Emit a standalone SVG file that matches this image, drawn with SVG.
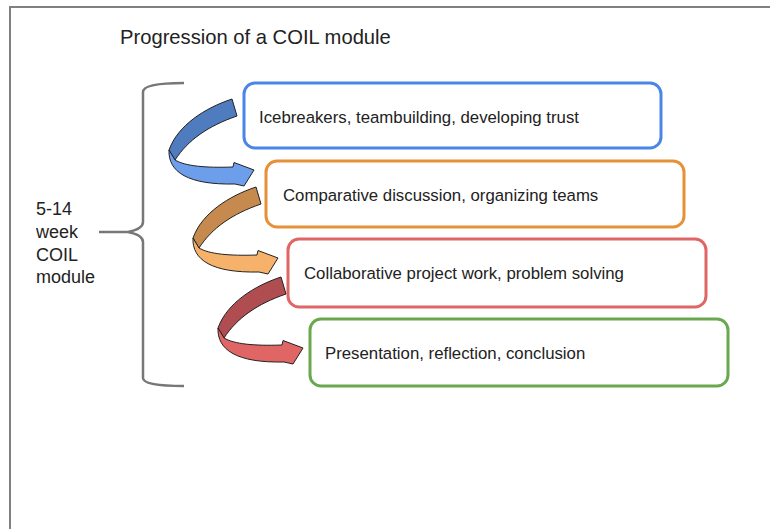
<svg xmlns="http://www.w3.org/2000/svg" width="770" height="529" viewBox="0 0 770 529">
<style>
.box{fill:#fff;stroke-width:3}
.t{font-family:"Liberation Sans",Arial,sans-serif;fill:#222}
.bt{font-size:16.8px}
.lt{font-size:18px}
.arr{stroke:#222;stroke-width:1;stroke-linejoin:round}
</style>
<rect width="770" height="529" fill="#fff"/>
<path d="M10,529 V7 H770" fill="none" stroke="#808080" stroke-width="2"/>
<text class="t" x="120" y="44" font-size="20.2">Progression of a COIL module</text>
<g id="label">
<text class="t lt" x="36" y="215">5-14</text>
<text class="t lt" x="36" y="238">week</text>
<text class="t lt" x="36" y="261">COIL</text>
<text class="t lt" x="36" y="283">module</text>
</g>
<g id="brace">
<path d="M184,83 C160,83 143,85 143,92 V222 Q143,229 128,232 Q143,235 143,242 V378 C143,384 160,386 184,386 M128,232 H99" fill="none" stroke="#777" stroke-width="2.5"/>
</g>
<g id="node1">
<rect class="box" x="244" y="83" width="417" height="65" rx="11" stroke="#4a86e8"/>
<text class="t bt" x="259" y="123">Icebreakers, teambuilding, developing trust</text>
</g>
<g id="node2">
<rect class="box" x="266" y="161" width="418" height="66" rx="11" stroke="#e69138"/>
<text class="t bt" x="283" y="201">Comparative discussion, organizing teams</text>
</g>
<g id="node3">
<rect class="box" x="288" y="239" width="418" height="68" rx="11" stroke="#e06666"/>
<text class="t bt" x="304" y="279">Collaborative project work, problem solving</text>
</g>
<g id="node4">
<rect class="box" x="310" y="319" width="418" height="67" rx="11" stroke="#6aa84f"/>
<text class="t bt" x="325" y="359">Presentation, reflection, conclusion</text>
</g>
<g id="connectors">
<g id="arrow1">
<path class="arr" fill="#4f7bbf" d="M232,99 C205,108 178,125 169,150 L175,160 C188,140 208,126 237,116 Z"/>
<path class="arr" fill="#6d9eeb" d="M169,150 C168,172 188,185 235,184 L244,186 L254,170 L234,162.5 L233,167 C205,168 185,166 175,160 Z"/>
</g>
<g id="arrow2" transform="translate(24,88)">
<path class="arr" fill="#c68a4e" d="M232,99 C205,108 178,125 169,150 L175,160 C188,140 208,126 237,116 Z"/>
<path class="arr" fill="#f6b26b" d="M169,150 C168,172 188,185 235,184 L244,186 L254,170 L234,162.5 L233,167 C205,168 185,166 175,160 Z"/>
</g>
<g id="arrow3" transform="translate(49,178)">
<path class="arr" fill="#b04d50" d="M232,99 C205,108 178,125 169,150 L175,160 C188,140 208,126 237,116 Z"/>
<path class="arr" fill="#e06666" d="M169,150 C168,172 188,185 235,184 L244,186 L254,170 L234,162.5 L233,167 C205,168 185,166 175,160 Z"/>
</g>
</g>
</svg>
